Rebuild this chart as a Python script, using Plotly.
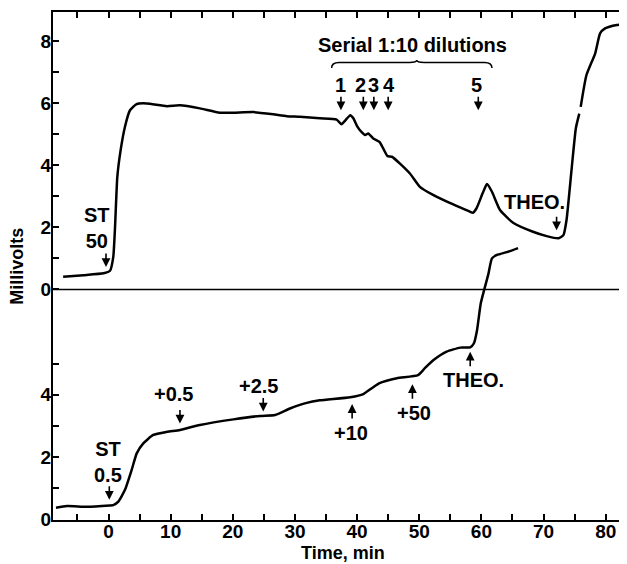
import plotly.graph_objects as go

# ---------------- data ----------------
# Upper recording (ST 50 + serial dilutions), millivolts on the upper scale
time_upper = [-7.3, -4.0, -0.8, 0.24, 0.77, 1.05, 1.42, 1.96, 2.65, 3.46, 4.53, 6.15,
              9.4, 11.5, 14.7, 17.9, 20.1, 23.3, 26.5, 28.7, 30.8, 34.0, 36.7, 37.5,
              38.05, 38.9, 39.4, 40.0, 40.7, 41.3, 41.8, 42.6, 43.6, 44.2, 44.9, 45.6,
              46.9, 48.5, 50.1, 52.3, 54.9, 57.6, 58.6, 59.2, 60.2, 60.9, 61.7, 63.0,
              65.1, 68.3, 70.5, 72.4, 73.2, 73.7, 74.5, 75.2, 75.75, None, 75.98, 76.9,
              78.3, 79.1, 79.9, 81.8, 83.4]
mv_upper = [0.41, 0.46, 0.52, 0.60, 1.05, 2.0, 3.63, 4.5, 5.25, 5.78, 5.98, 6.0,
            5.91, 5.94, 5.84, 5.70, 5.70, 5.72, 5.65, 5.59, 5.57, 5.52, 5.48, 5.33,
            5.44, 5.62, 5.52, 5.27, 5.08, 4.98, 5.03, 4.87, 4.76, 4.55, 4.30, 4.28,
            4.06, 3.74, 3.31, 3.04, 2.79, 2.56, 2.47, 2.61, 3.10, 3.40, 3.15, 2.56,
            2.15, 1.86, 1.72, 1.65, 1.75, 2.24, 3.85, 5.2, 5.67, None, 5.89, 6.91,
            7.61, 8.26, 8.42, 8.53, 8.56]

# Lower recording (ST 0.5 + additions), millivolts on the lower scale
time_lower = [-8.45, -6.7, -3.5, 0.2, 0.77, 1.58, 2.65, 3.73, 4.54, 5.6, 7.2, 9.4,
              11.5, 14.7, 20.1, 24.4, 26.8, 29.2, 31.9, 34.0, 38.9, 41.0, 42.3, 43.7,
              46.4, 49.8, 50.9, 52.3, 54.4, 56.6, 58.2, 58.8, 59.3, 59.9, 60.5, 61.1,
              61.7, 62.5, 64.1, 65.9]
mv_lower = [0.38, 0.43, 0.41, 0.45, 0.46, 0.57, 0.95, 1.59, 2.12, 2.44, 2.71, 2.81,
            2.87, 3.03, 3.21, 3.32, 3.35, 3.56, 3.74, 3.82, 3.92, 4.02, 4.20, 4.38,
            4.53, 4.63, 4.85, 5.11, 5.38, 5.51, 5.52, 5.65, 6.07, 6.93, 7.40, 7.85,
            8.37, 8.48, 8.57, 8.70]

# axis ticks
x_tickvals = [-5, 0, 5, 10, 15, 20, 25, 30, 35, 40, 45, 50, 55, 60, 65, 70, 75, 80]
x_ticktext = ["", "0", "", "10", "", "20", "", "30", "", "40", "", "50", "", "60", "", "70", "", "80"]
lower_tickvals = [0, 1, 2, 3, 4, 5]
lower_ticktext = ["0", "", "2", "", "4", ""]
upper_tickvals = [0, 1, 2, 3, 4, 5, 6, 7, 8]
upper_ticktext = ["0", "", "2", "", "4", "", "6", "", "8"]
x_title = "Time, min"
y_title = "Millivolts"

# text labels: (text, time, mV, axis)
labels = [
    ("ST<br>50", -1.85, 1.99, "y2"),
    ("Serial 1:10 dilutions", 48.9, 7.88, "y2"),
    ("1", 37.4, 6.61, "y2"),
    ("2", 40.6, 6.61, "y2"),
    ("3", 42.7, 6.61, "y2"),
    ("4", 45.2, 6.61, "y2"),
    ("5", 59.2, 6.61, "y2"),
    ("THEO.", 68.5, 2.83, "y2"),
    ("ST<br>0.5", -0.16, 1.85, "y"),
    ("+0.5", 10.4, 4.02, "y"),
    ("+2.5", 24.2, 4.28, "y"),
    ("+10", 39.0, 2.77, "y"),
    ("+50", 49.2, 3.40, "y"),
    ("THEO.", 58.7, 4.47, "y"),
]
# arrows: (time, mV at tip, direction, axis)
arrows = [
    (-0.4, 0.72, "down", "y2"),
    (37.4, 5.78, "down", "y2"),
    (41.0, 5.78, "down", "y2"),
    (42.7, 5.78, "down", "y2"),
    (45.0, 5.78, "down", "y2"),
    (59.5, 5.78, "down", "y2"),
    (72.1, 1.91, "down", "y2"),
    (0.13, 0.63, "down", "y"),
    (11.5, 3.08, "down", "y"),
    (24.9, 3.46, "down", "y"),
    (39.2, 3.70, "up", "y"),
    (48.9, 4.34, "up", "y"),
    (58.2, 5.38, "up", "y"),
]
# brace spanning the serial dilutions: start, centre, end (time), and heights (mV upper)
brace_t = [35.9, 49.6, 61.7]
brace_v = [7.14, 7.32, 7.40]

FONT = "Liberation Sans, Arial, Helvetica, sans-serif"

fig = go.Figure()
fig.add_trace(go.Scatter(x=time_lower, y=mv_lower, mode="lines", yaxis="y",
                         line=dict(color="black", width=2.5, shape="spline", smoothing=0.5),
                         connectgaps=False, showlegend=False))
fig.add_trace(go.Scatter(x=time_upper, y=mv_upper, mode="lines", yaxis="y2",
                         line=dict(color="black", width=2.5, shape="spline", smoothing=0.5),
                         connectgaps=False, showlegend=False))

annotations = []
for text, t, v, ax in labels:
    annotations.append(dict(text=text, x=t, y=v, xref="x", yref=ax, showarrow=False,
                            font=dict(family=FONT, size=20, color="black", weight="bold"),
                            xanchor="center", yanchor="middle"))
for t, v, d, ax in arrows:
    annotations.append(dict(text="", x=t, y=v, xref="x", yref=ax, showarrow=True,
                            ax=0, ay=-15 if d == "down" else 16,
                            arrowhead=2, arrowsize=1.1, arrowwidth=1.6, arrowcolor="black"))
# axis titles
annotations.append(dict(text=x_title, xref="paper", yref="paper", x=0.504, y=-0.042,
                        xanchor="center", yanchor="top", showarrow=False,
                        font=dict(family=FONT, size=18, color="black", weight="bold")))
annotations.append(dict(text=y_title, xref="paper", yref="paper", x=-0.042, y=0.5,
                        xanchor="right", yanchor="middle", textangle=-90, showarrow=False,
                        font=dict(family=FONT, size=18, color="black", weight="bold")))

x0, xc, x1 = brace_t
ye, ym, yp = brace_v
brace_path = (f"M {x0},{ye} Q {x0},{ym} {x0+1.2},{ym} L {xc-1.2},{ym} "
              f"Q {xc},{ym} {xc},{yp} Q {xc},{ym} {xc+1.2},{ym} L {x1-1.2},{ym} "
              f"Q {x1},{ym} {x1},{ye}")

shapes = [
    dict(type="line", xref="paper", x0=0, x1=1, yref="y2", y0=0, y1=0,
         line=dict(color="black", width=1.5)),
    dict(type="path", xref="x", yref="y2", path=brace_path,
         line=dict(color="black", width=1.5)),
]

tickfont = dict(family=FONT, size=19, color="black", weight="bold")
common = dict(ticks="inside", ticklen=6, tickwidth=1.5, tickcolor="black",
              showline=True, linewidth=2, linecolor="black", mirror="ticks",
              showgrid=False, zeroline=False, tickfont=tickfont, automargin=False,
              tickmode="array")
fig.update_layout(
    width=627, height=564, autosize=False,
    margin=dict(l=45, r=7, t=4, b=52, autoexpand=False),
    paper_bgcolor="white", plot_bgcolor="white",
    font=dict(family=FONT, size=19, color="black"),
    xaxis=dict(range=[-8.93, 83.59], tickvals=x_tickvals, ticktext=x_ticktext,
               ticklabelstandoff=-7, **common),
    yaxis=dict(range=[-0.016, 16.27], tickvals=lower_tickvals, ticktext=lower_ticktext,
               ticklabelstandoff=-4, **common),
    yaxis2=dict(range=[-7.44, 8.95], overlaying="y", side="left",
                tickvals=upper_tickvals, ticktext=upper_ticktext,
                ticklabelstandoff=-4, **common),
    annotations=annotations,
    shapes=shapes,
)

fig.write_html("out.html")
